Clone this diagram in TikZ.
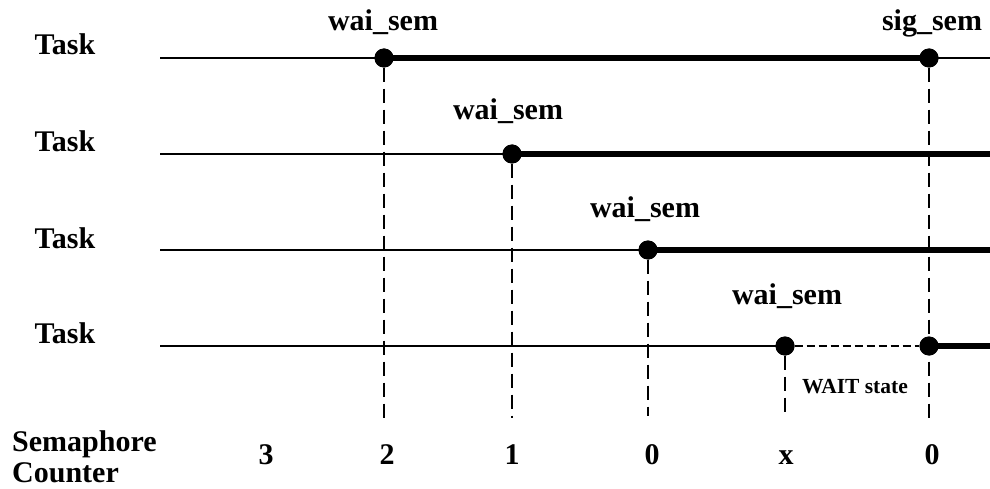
\documentclass[tikz,border=0pt]{standalone}
\usepackage{fontspec}
\setmainfont{Liberation Serif}
\begin{document}
\begin{tikzpicture}[x=1pt,y=-1pt,
  lbl/.style={font=\bfseries\fontsize{30}{32}\selectfont, inner sep=0pt, anchor=base},
  small/.style={font=\bfseries\fontsize{21.5}{23}\selectfont, inner sep=0pt, anchor=base},
  dot/.style={circle, fill=black, minimum size=19pt, inner sep=0pt},
  thin/.style={line width=1.6pt},
  thick/.style={line width=5.5pt},
  vdash/.style={line width=1.6pt, dash pattern=on 14pt off 7pt},
  hdash/.style={line width=1.6pt, dash pattern=on 8pt off 4pt}]
\useasboundingbox (0,0) rectangle (990,489);
% coordinates
\coordinate (s1) at (160,58); \coordinate (e1) at (990,58);
\coordinate (s2) at (160,154); \coordinate (e2) at (990,154);
\coordinate (s3) at (160,250); \coordinate (e3) at (990,250);
\coordinate (s4) at (160,346); \coordinate (e4) at (990,346);
\coordinate (b2) at (384,418);
\coordinate (b1) at (512,418);
\coordinate (b0) at (648,416);
\coordinate (bx) at (785,418);
\coordinate (bs) at (929,418);
% dots
\node[dot] (w1) at (384,58) {};
\node[dot] (g1) at (929,58) {};
\node[dot] (w2) at (512,154) {};
\node[dot] (w3) at (648,250) {};
\node[dot] (w4) at (785,346) {};
\node[dot] (g4) at (929,346) {};
% lines
\draw[thin] (s1) -- (w1.center);
\draw[thick] (w1.center) -- (g1.center);
\draw[thin] (g1.center) -- (e1);
\draw[thin] (s2) -- (w2.center);
\draw[thick] (w2.center) -- (e2);
\draw[thin] (s3) -- (w3.center);
\draw[thick] (w3.center) -- (e3);
\draw[thin] (s4) -- (w4.center);
\draw[hdash] (w4.east) -- (g4.west);
\draw[thick] (g4.center) -- (e4);
% verticals
\draw[vdash] (w1.south) -- (b2);
\draw[vdash] (w2.south) -- (b1);
\draw[vdash] (w3.south) -- (b0);
\draw[vdash] (w4.south) -- (bx);
\draw[vdash] (g1.south) -- (bs);
% redraw dots on top
\foreach \n in {w1,g1,w2,w3,w4,g4} \fill (\n.center) circle (9.5pt);
% labels
\node[lbl] (l1) at (383,31) {wai\_sem};
\node[lbl] (l2) at (932,31) {sig\_sem};
\node[lbl] (l3) at (508,120) {wai\_sem};
\node[lbl] (l4) at (645,217) {wai\_sem};
\node[lbl] (l5) at (787,304) {wai\_sem};
\node[small] (ws) at (855,393) {WAIT state};
\node[lbl] (t1) at (65,55) {Task};
\node[lbl] (t2) at (65,152) {Task};
\node[lbl] (t3) at (65,248) {Task};
\node[lbl] (t4) at (65,343) {Task};
\node[lbl, anchor=base west] (sc1) at (12,451) {Semaphore};
\node[lbl, anchor=base west] (sc2) at (12,482) {Counter};
\node[lbl] (n3) at (266,464) {3};
\node[lbl] (n2) at (387,464) {2};
\node[lbl] (n1) at (512,464) {1};
\node[lbl] (n0) at (652,464) {0};
\node[lbl] (nx) at (786,464) {x};
\node[lbl] (n0b) at (932,464) {0};
\end{tikzpicture}
\end{document}
